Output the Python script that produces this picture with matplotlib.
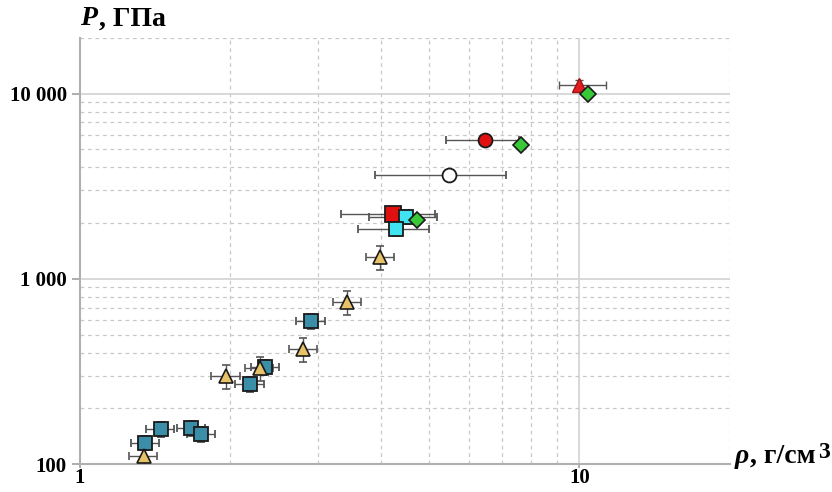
import matplotlib.pyplot as plt
from matplotlib.ticker import FixedLocator, NullFormatter, FixedFormatter

# teal squares
sq_rho = [1.35, 1.45, 1.67, 1.75, 2.19, 2.35, 2.90]
sq_p = [130, 154, 156, 145, 270, 333, 590]
# tan triangles
tri_rho = [1.34, 1.96, 2.29, 2.80, 3.43, 3.99]
tri_p = [110, 298, 329, 417, 747, 1306]
# cyan squares
cy_rho = [4.49, 4.29]
cy_p = [2170, 1870]
cy_xlo = [0.70, 0.68]
cy_xhi = [0.69, 0.71]
# red square
rs_rho = [4.23]
rs_p = [2230]
rs_xlo = [0.90]
rs_xhi = [0.90]
# green diamonds
dm_rho = [4.73, 7.62, 10.42]
dm_p = [2066, 5310, 10000]
# red circle / open circle
rc_rho, rc_p, rc_xlo, rc_xhi = [6.46], [5650], [1.06], [1.09]
wc_rho, wc_p, wc_xlo, wc_xhi = [5.48], [3660], [1.58], [1.64]
# red triangle
rt_rho, rt_p, rt_xlo, rt_xhi = [9.98], [11190], [0.90], [1.34]

plt.rcParams['font.family'] = ['Liberation Serif', 'DejaVu Serif']

fig = plt.figure(figsize=(8.32, 4.92), dpi=100)
ax = fig.add_axes([0.0962, 0.0569, 0.781, 0.866])
ax.set_xscale('log')
ax.set_yscale('log')
ax.set_xlim(1, 20)
ax.set_ylim(100, 20000)

# grid: solid at decades, dashed in between
ax.xaxis.set_major_locator(FixedLocator([1, 10]))
ax.xaxis.set_minor_locator(FixedLocator([2, 3, 4, 5, 6, 7, 8, 9, 20]))
ax.yaxis.set_major_locator(FixedLocator([100, 1000, 10000]))
ax.yaxis.set_minor_locator(FixedLocator([200, 300, 400, 500, 600, 700, 800, 900,
                                         2000, 3000, 4000, 5000, 6000, 7000, 8000, 9000, 20000]))
ax.xaxis.set_major_formatter(FixedFormatter(['1', '10']))
ax.yaxis.set_major_formatter(FixedFormatter(['100', '1 000', '10 000']))
ax.xaxis.set_minor_formatter(NullFormatter())
ax.yaxis.set_minor_formatter(NullFormatter())
ax.grid(which='major', color='#d2d2d2', linewidth=1.2, linestyle='-')
ax.grid(which='minor', color='#c8c8c8', linewidth=0.9, linestyle=(0, (3, 3)))
ax.set_axisbelow(True)

for s in ['top', 'right']:
    ax.spines[s].set_visible(False)
for s in ['left', 'bottom']:
    ax.spines[s].set_color('#b0b0b0')
    ax.spines[s].set_linewidth(1.5)
ax.tick_params(which='major', length=6, color='#a0a0a0', width=1.2, labelsize=15)
ax.tick_params(axis='x', which='major', length=3, pad=0, labelsize=15)
ax.tick_params(which='minor', length=0)
for lab in ax.get_xticklabels() + ax.get_yticklabels():
    lab.set_fontweight('bold')

ebk = dict(ecolor='#555555', elinewidth=1, capsize=3, capthick=1, linestyle='none', zorder=3)

def rel(vals, f):
    return [v * f for v in vals]

ax.errorbar(sq_rho, sq_p, xerr=rel(sq_rho, 0.065), yerr=rel(sq_p, 0.09),
            marker='s', ms=10, mfc='#3a8ea8', mec='#1a1a1a', mew=1.3, **ebk)
ax.errorbar(tri_rho, tri_p, xerr=rel(tri_rho, 0.065), yerr=rel(tri_p, 0.15),
            marker='^', ms=10, mfc='#e8c268', mec='#1a1a1a', mew=1.2, **ebk)
ax.errorbar(rs_rho, rs_p, xerr=[rs_xlo, rs_xhi], yerr=rel(rs_p, 0.04),
            marker='s', ms=11, mfc='#e01010', mec='#1a1a1a', mew=1.3, **ebk)
ax.errorbar(cy_rho, cy_p, xerr=[cy_xlo, cy_xhi], yerr=rel(cy_p, 0.09),
            marker='s', ms=10, mfc='#40e4f0', mec='#1a1a1a', mew=1.3, **ebk)
ax.errorbar(wc_rho, wc_p, xerr=[wc_xlo, wc_xhi],
            marker='o', ms=10, mfc='white', mec='#1a1a1a', mew=1.3, **ebk)
ax.errorbar(rc_rho, rc_p, xerr=[rc_xlo, rc_xhi],
            marker='o', ms=10, mfc='#e01010', mec='#1a1a1a', mew=1.3, **ebk)
ax.errorbar(rt_rho, rt_p, xerr=[rt_xlo, rt_xhi], yerr=rel(rt_p, 0.06),
            marker='^', ms=10, mfc='#e02020', mec='#a01010', mew=1, **ebk)
ax.plot(dm_rho, dm_p, linestyle='none', marker='D', ms=8, mfc='#38c838',
        mec='#1a1a1a', mew=1.2, zorder=4)

# axis titles
fig.text(0.096, 0.962, 'P', fontsize=20, fontweight='bold', fontstyle='italic',
         ha='left', va='center')
fig.text(0.119, 0.962, ', ГПа', fontsize=20, fontweight='bold', ha='left', va='center')
fig.text(0.883, 0.072, 'ρ', fontsize=20, fontweight='bold', fontstyle='italic',
         ha='left', va='center')
fig.text(0.902, 0.072, ', г/см', fontsize=20, fontweight='bold', ha='left', va='center')
fig.text(0.983, 0.080, '3', fontsize=17, fontweight='bold', ha='left', va='center')

fig.savefig('out.png', dpi=100)
